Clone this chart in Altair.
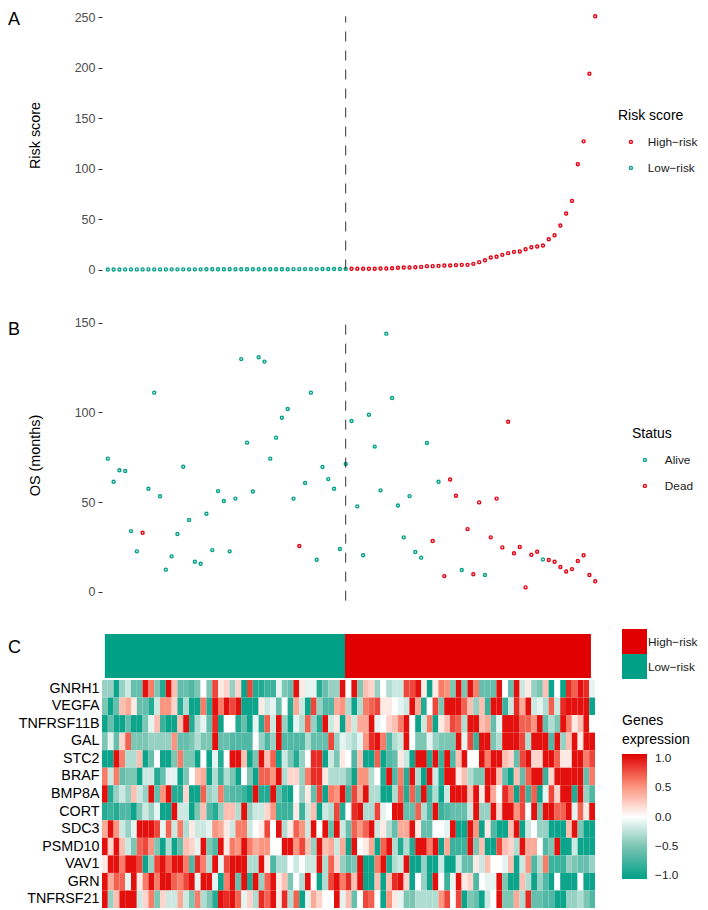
import altair as alt
import pandas as pd

FONT = "Liberation Sans"
TEAL = "#00A087"
RED = "#E60012"
BAR_RED = "#E00000"
HIGH = "High\u2212risk"
LOW = "Low\u2212risk"

low_scores = [0.05, 0.06, 0.07, 0.08, 0.08, 0.09, 0.1, 0.1, 0.11, 0.12, 0.12, 0.13, 0.14, 0.15,
              0.15, 0.16, 0.17, 0.18, 0.18, 0.19, 0.2, 0.21, 0.22, 0.23, 0.24, 0.25, 0.26, 0.27,
              0.28, 0.3, 0.31, 0.32, 0.34, 0.36, 0.38, 0.4, 0.42, 0.45, 0.48, 0.5, 0.55, 0.6]
high_scores = [0.7, 0.7, 0.7, 0.7, 0.7, 1, 1, 1.3, 1.7, 2, 2, 2.3, 2.6, 3.3, 3.3, 3.6, 4, 4, 4.3,
               4.6, 4.6, 5.6, 7.3, 9.2, 11.9, 12.6, 14.5, 16.2, 17.5, 17.8, 20.1, 22.1, 22.8, 23.8,
               30, 34, 43.6, 55.5, 68, 104.4, 127, 194, 251]

os_months = [74.2, 61.3, 67.7, 67.3, 33.8, 22.5, 32.9, 57.4, 111, 53.2, 12.3, 19.7, 32.2, 69.7, 40,
             16.7, 15.6, 43.5, 23.2, 56.1, 50.6, 22.5, 51.9, 129.7, 83.1, 55.9, 130.7, 128.3, 74.2,
             85.9, 97, 101.9, 51.9, 25.5, 60.6, 111, 17.8, 69.5, 62.8, 57.4, 23.8, 71.2,
             95.2, 47.6, 20.3, 98.7, 80.9, 56.5, 143.9, 108, 48.1, 30.3, 53.3, 22.1, 19, 82.9, 28.3,
             61.3, 8.7, 62.6, 53.5, 12.1, 34.9, 9.7, 49.8, 9.3, 30.3, 51.9, 24.7, 94.8, 21.4, 24.9,
             2.4, 20.6, 22.3, 18, 17.7, 16.7, 13.8, 11.3, 12.6, 17.1, 20.3, 9.3, 5.8]
dead_idx = [6, 33, 56, 58, 59, 60, 62, 63, 64, 66, 67, 68, 69, 70, 71, 72, 73, 74, 76, 77, 78, 79, 80, 81, 82, 83, 84]

genes = ["GNRH1", "VEGFA", "TNFRSF11B", "GAL", "STC2", "BRAF", "BMP8A", "CORT", "SDC3", "PSMD10",
         "VAV1", "GRN", "TNFRSF21"]

GNRH1 = [-4,-4,-10,-4,-2,-6,-6,10,6,-5,-9,10,3,-6,-6,-7,-5,0,-5,8,1,2,
         -4,2,-10,8,-9,-9,-8,-8,-1,-5,-6,10,1,-1,-1,-9,-6,-4,-4,10,0,10,-5,3,2,-4,0,-3,-2,-2,8,8,10,1,-10,1,6,5,-5,10,
         -5,10,6,-6,-6,-6,10,0,-6,10,-2,1,-4,-5,3,-10,0,-10,9,7,10,9,-1]
VEGFA = [-5,-10,-6,3,4,1,-6,-6,-9,-2,5,5,2,-9,-3,-10,-10,6,-9,10,6,10,
         8,10,-10,-10,-10,1,-2,-1,-6,0,-9,4,-2,-10,8,-4,-7,-7,4,5,-3,-10,-3,6,7,8,1,1,0,-1,-2,10,4,-9,0,8,-5,10,10,10,
         7,3,-4,3,-8,10,10,-8,-2,9,4,10,-2,-1,-3,7,-2,9,10,10,10,10,-10]
TNFRSF11B = [-10,-6,-10,-10,-6,-10,-10,-5,-1,3,-8,-10,-10,3,10,-9,-3,-1,-6,9,-10,0,
             0,-9,-6,-10,-1,-9,7,-2,10,-4,-10,-1,-3,7,-4,-9,10,-2,1,-10,3,-2,4,4,10,-1,0,2,3,6,10,0,-10,-2,6,-10,1,3,8,7,
             -3,10,10,3,4,-6,-1,10,10,10,7,7,5,10,-6,-3,-5,10,6,1,3,10,0]
GAL = [-5,-1,-6,2,7,-5,-5,-5,-4,-4,-4,-4,5,-6,-6,-5,-3,-5,-5,10,-6,-6,
       -7,-7,-7,-7,0,-4,-7,-4,10,-7,-7,-7,-7,-3,-6,-6,-6,8,-4,-1,-2,-3,-1,5,9,10,6,-7,-3,-2,10,0,-5,-5,-1,-4,-5,-5,-5,10,
       -1,8,-8,10,10,-5,-3,10,10,10,8,-3,10,10,10,-7,10,-4,3,10,1,10,10]
STC2 = [-10,-10,10,6,-3,-3,3,-10,-6,0,-10,-10,-5,6,-5,-5,-10,0,-10,-1,-9,0,
        10,10,3,-10,-5,10,3,7,-10,-2,-5,-9,-4,0,9,9,-10,-2,-5,1,0,-7,3,-10,-10,7,-10,-7,-6,1,-2,-10,10,10,-9,10,-8,10,-7,3,
        10,0,0,10,6,10,10,3,2,-6,8,10,2,2,10,10,7,1,1,10,10,6,8]
BRAF = [6,-2,6,-6,-5,-5,-10,-2,-2,-9,-6,-1,-1,-10,-5,0,3,4,-10,-3,-8,-3,
        -5,-10,0,-5,-10,7,7,5,10,-3,2,2,-4,6,9,9,1,-3,-3,-3,-5,-10,5,5,-3,0,-9,10,-7,6,-9,10,-3,-10,10,-2,-9,10,10,1,
        3,-3,-5,-5,10,10,3,-6,-10,3,-6,7,10,10,-8,2,10,10,10,10,10,-6,6]
BMP8A = [10,-9,-4,-2,-4,3,-2,-4,10,-6,5,10,-9,-9,2,-10,-10,7,-4,-3,6,-6,
         -7,-7,-8,-10,10,-9,-9,10,-6,-9,-10,0,-4,1,-6,8,-10,6,5,10,-8,8,4,10,-3,-3,-10,-10,-3,7,-9,7,-7,10,-8,-3,-10,-2,10,10,
         10,3,10,1,10,4,0,9,6,-10,8,-8,7,-10,-1,8,2,10,10,-9,10,-4,-7]
CORT = [-9,-8,-9,-7,-7,-10,-5,-2,-4,-1,-10,-10,10,-2,-2,-10,-5,3,-7,-9,-4,3,
        3,-3,10,-4,-2,-2,2,5,-8,-8,-8,1,-8,-2,3,-10,-2,-3,8,-9,0,9,10,-3,-3,8,-1,0,10,10,-6,-6,7,-3,-7,10,-8,-7,-6,-6,
        -6,-2,10,-4,-4,10,2,10,10,5,8,0,10,-5,10,10,7,7,10,-1,7,1,10]
SDC3 = [4,10,5,-2,-4,-1,10,10,10,8,-1,7,-2,6,-3,1,-2,-2,-1,5,4,1,
        -2,6,6,-2,0,1,8,0,10,-3,1,7,5,-2,10,0,10,-6,10,-2,-6,7,5,7,10,-2,1,-3,-6,4,4,10,1,-6,-6,0,0,-1,10,-10,
        -10,10,5,-10,1,-7,-10,-10,3,10,-10,-2,0,-4,-4,-10,-10,-10,3,10,-5,-10,-10]
PSMD10 = [10,2,10,3,-2,-5,7,8,5,-5,-10,-3,-10,-6,3,2,-1,10,-5,-7,10,1,
          6,5,10,6,4,5,5,0,0,10,10,5,8,3,-4,10,3,4,-2,4,-10,10,0,1,4,-10,7,10,-3,-9,-3,-9,10,10,6,10,-10,4,-8,-8,
          -8,10,-5,3,-10,-10,8,3,2,-3,10,4,4,0,-7,-5,10,-10,-10,-2,-10,-10,-10]
VAV1 = [1,10,10,6,10,10,8,-10,-4,8,10,7,10,10,6,-7,9,6,-3,10,-1,8,
        10,10,10,-3,-3,10,1,-7,-3,-3,0,-2,0,-2,-2,10,-3,7,2,-4,-6,-5,10,-10,-10,6,10,-9,-3,-2,10,-10,-10,-4,-10,-10,-2,-10,-10,-2,
        -6,-6,1,-2,3,0,0,-1,3,-10,-2,5,-7,-3,6,-8,-8,-8,-4,-5,-6,-6,-4]
GRN = [10,4,7,7,-1,10,1,6,10,6,10,10,7,6,8,10,-1,10,10,-1,-10,6,
       10,-6,10,-9,10,-4,7,10,1,3,-5,0,-3,10,0,-10,-3,8,10,6,9,3,10,-10,-10,3,-10,3,9,10,2,-10,0,-4,-10,10,0,-8,-1,10,
       1,2,-7,0,-1,-1,10,-5,-10,-10,3,-3,-10,-4,-7,-10,0,-10,-10,-10,0,-10,-10]
TNFRSF21 = [10,-4,3,10,10,10,-2,2,6,-5,2,-2,-2,4,-2,-5,6,-3,-5,-9,10,9,
            10,7,-1,2,-3,9,7,10,1,9,-3,7,-10,-1,4,2,0,0,10,-1,3,-6,0,8,7,0,-10,5,1,-1,-5,-5,-3,-3,-3,-3,5,8,0,8,
            -10,-5,-6,-10,-2,0,10,-5,-5,4,-3,9,-6,-6,-7,-7,-10,-10,-4,-4,-3,-5,-7]
rows = [GNRH1, VEGFA, TNFRSF11B, GAL, STC2, BRAF, BMP8A, CORT, SDC3, PSMD10, VAV1, GRN, TNFRSF21]

cut_index = [41]
annot_groups = [LOW, HIGH]
annot_start = [0.5, 41.9]
annot_end = [41.9, 84.3]

scores = low_scores + high_scores
df = pd.DataFrame({
    "i": list(range(len(scores))),
    "score": scores,
    "risk": [LOW] * len(low_scores) + [HIGH] * len(high_scores),
    "os": os_months,
    "status": ["Dead" if i in dead_idx else "Alive" for i in range(len(scores))],
})

heat = pd.DataFrame([
    {"gene": g, "col": c, "v": v / 10}
    for g, r in zip(genes, rows) for c, v in enumerate(r)
])
annot = pd.DataFrame({"risk": annot_groups, "s": annot_start, "e": annot_end})

W_SCATTER = 499
x_scale = alt.Scale(domain=[-1, 85], nice=False, zero=False)
x_enc = alt.X("i:Q", axis=None, scale=x_scale)


def letter(text, y):
    return alt.Chart(pd.DataFrame({"t": [text]})).mark_text(
        align="left", baseline="alphabetic", fontSize=18, font=FONT, color="black"
    ).encode(x=alt.value(-94), y=alt.value(y), text="t:N")


def y_axis(title, values, title_y):
    return alt.Axis(title=title, values=values, grid=False, domain=False, tickSize=4, tickColor="#333333",
                    tickWidth=1, labelFontSize=12.5, labelColor="#4d4d4d", labelFont=FONT, labelPadding=3,
                    titleFont=FONT, titleFontSize=14.4, titleFontWeight="normal", titleColor="black",
                    titleX=-60, titleY=title_y, titleAnchor="middle", labelOverlap=False)


def legend(title, x, y, label_offset):
    return alt.Legend(title=title, orient="none", legendX=x, legendY=y, titleFont=FONT, titleFontSize=14,
                      titleFontWeight="normal", titleColor="black", titlePadding=13, labelFont=FONT,
                      labelFontSize=11.8, labelColor="#1a1a1a", rowPadding=13, symbolType="circle",
                      symbolSize=9, symbolStrokeWidth=1.4, symbolOffset=7, labelOffset=label_offset, padding=0)


def rule(lo, hi, field_y, axis):
    d = pd.DataFrame({"i": cut_index, "lo": [lo], "hi": [hi]})
    return alt.Chart(d).mark_rule(color="#333333", strokeWidth=1, strokeDash=[10, 9]).encode(
        x=alt.X("i:Q", axis=None, scale=x_scale),
        y=alt.Y("lo:Q", scale=field_y, axis=axis),
        y2="hi:Q",
    )


y_a = alt.Scale(domain=[-48.07, 259.2], nice=False, zero=False)
y_b = alt.Scale(domain=[-22.47, 151.5], nice=False, zero=False)
ax_a = y_axis("Risk score", [0, 50, 100, 150, 200, 250], 127)
ax_b = y_axis("OS (months)", [0, 50, 100, 150], 135)

pts_a = alt.Chart(df).mark_point(filled=False, size=9, strokeWidth=1.4, opacity=1).encode(
    x=x_enc,
    y=alt.Y("score:Q", scale=y_a, axis=ax_a),
    color=alt.Color("risk:N", scale=alt.Scale(domain=[HIGH, LOW], range=[RED, TEAL]),
                    legend=legend("Risk score", 516, 101, 11)),
)
panel_a = alt.layer(pts_a, rule(0, 251, y_a, ax_a), letter("A", 17)).properties(width=W_SCATTER, height=310)

pts_b = alt.Chart(df).mark_point(filled=False, size=9, strokeWidth=1.4, opacity=1).encode(
    x=x_enc,
    y=alt.Y("os:Q", scale=y_b, axis=ax_b),
    color=alt.Color("status:N", scale=alt.Scale(domain=["Alive", "Dead"], range=[TEAL, RED]),
                    legend=legend("Status", 530, 107, 14)),
)
panel_b = alt.layer(pts_b, rule(-5, 150, y_b, ax_b), letter("B", 15)).properties(width=W_SCATTER, height=312)

bar = alt.Chart(annot).mark_rect().encode(
    x=alt.X("s:Q", axis=None, scale=alt.Scale(domain=[0, 85], nice=False, zero=False)),
    x2="e:Q",
    y=alt.value(0),
    y2=alt.value(44),
    color=alt.Color("risk:N", scale=alt.Scale(domain=[HIGH, LOW], range=[BAR_RED, TEAL]),
                    legend=alt.Legend(title=None, orient="none", legendX=520, legendY=-5, symbolType="square",
                                      symbolSize=625, symbolStrokeWidth=0, symbolOpacity=1, rowPadding=0,
                                      labelFont=FONT, labelFontSize=11.8, labelColor="#1a1a1a", labelOffset=1,
                                      padding=0)),
)
panel_annot = alt.layer(bar, letter("C", 19)).properties(width=493, height=44)

panel_heat = alt.Chart(heat).mark_rect().encode(
    x=alt.X("col:O", axis=None, scale=alt.Scale(paddingInner=0, paddingOuter=0)),
    y=alt.Y("gene:N", sort=genes, scale=alt.Scale(paddingInner=0, paddingOuter=0),
            axis=alt.Axis(title=None, ticks=False, domain=False, labelFont=FONT, labelFontSize=14.3,
                          labelColor="black", labelPadding=3)),
    color=alt.Color("v:Q", scale=alt.Scale(domain=[-1.06, -0.5, 0, 0.55, 1.06],
                                           range=[TEAL, "#7CC6B4", "#FFFFFF", "#FB8A72", BAR_RED], clamp=True,
                                           interpolate="rgb"),
                    legend=alt.Legend(title=["Genes", "expression"], orient="none", legendX=520, legendY=34,
                                      titleFont=FONT, titleFontSize=14, titleFontWeight="normal", titleColor="black",
                                      titleLineHeight=19, titlePadding=7, gradientLength=125, gradientThickness=25,
                                      values=[-1, -0.5, 0, 0.5, 1], format=".1f", labelFont=FONT, labelFontSize=11.8,
                                      labelColor="#1a1a1a", labelOffset=8, padding=0, gradientStrokeWidth=0)),
).properties(width=493, height=228)

chart = alt.vconcat(panel_a, panel_b, panel_annot, panel_heat, spacing=2, bounds="flush").resolve_scale(
    color="independent", x="independent", y="independent"
).properties(padding=0, background="white").configure_view(stroke=None)

chart.save("out.html", embed_options={"renderer": "svg", "actions": False})
